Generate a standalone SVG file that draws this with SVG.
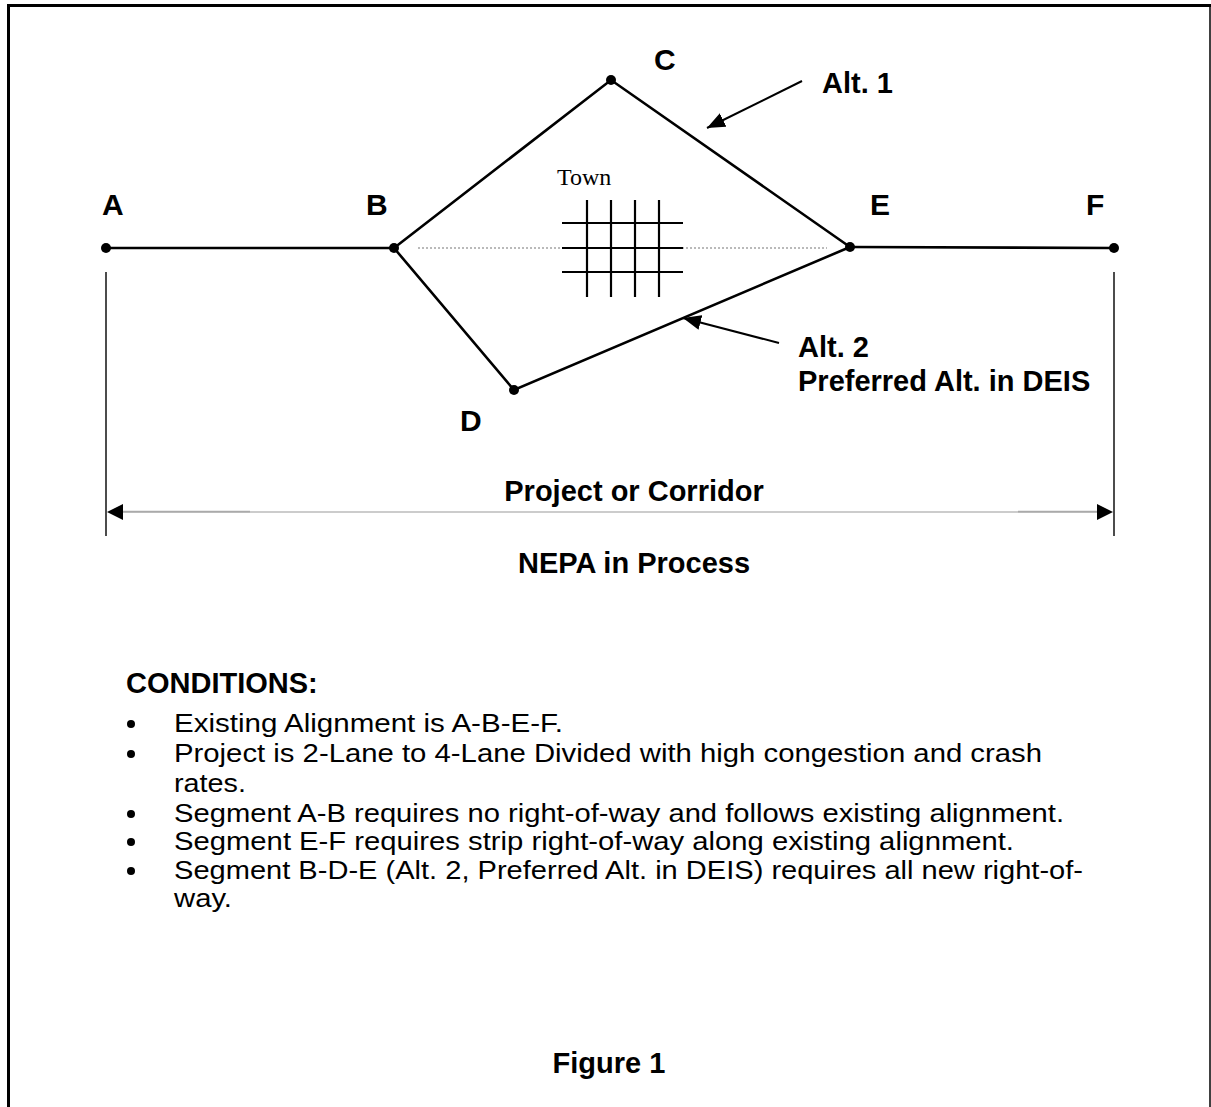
<svg xmlns="http://www.w3.org/2000/svg" width="1211" height="1107" viewBox="0 0 1211 1107">
<style>
.lbl{font-family:"Liberation Sans",Arial,sans-serif;font-weight:bold;font-size:30px;fill:#000}
.bt{font-family:"Liberation Sans",Arial,sans-serif;font-weight:bold;font-size:29px;fill:#000}
.tx{font-family:"Liberation Sans",Arial,sans-serif;font-size:26px;fill:#000}
.town{font-family:"Liberation Serif","Times New Roman",serif;font-size:24px;fill:#000}
.road{stroke:#000;stroke-width:2.6;fill:none;stroke-linecap:round}
.grid{stroke:#000;stroke-width:2.2}
.dim{stroke:#111;stroke-width:1.5}
</style>
<defs>
<marker id="ptr" viewBox="0 0 10 10" refX="10" refY="5" markerWidth="18" markerHeight="15" markerUnits="userSpaceOnUse" orient="auto" preserveAspectRatio="none">
<path d="M0,0 L10,5 L0,10 z" fill="#000"/>
</marker>
</defs>
<rect width="1211" height="1107" fill="#fff"/>
<g id="frame">
<line x1="8.5" y1="4" x2="8.5" y2="1107" stroke="#000" stroke-width="3"/>
<line x1="7" y1="5.5" x2="1211" y2="5.5" stroke="#000" stroke-width="3"/>
<line x1="1210" y1="4" x2="1210" y2="1107" stroke="#000" stroke-width="1.5"/>
</g>
<g id="connectors">
<line x1="418" y1="248" x2="827" y2="248" stroke="#777" stroke-width="1.2" stroke-dasharray="2,2"/>
<line class="road" x1="106" y1="248" x2="394" y2="248"/>
<polyline class="road" points="394,248 611,80 850,247"/>
<polyline class="road" points="394,248 514,390 850,247"/>
<line class="road" x1="850" y1="247" x2="1114" y2="248"/>
<line x1="802" y1="81" x2="707" y2="128" stroke="#000" stroke-width="2" marker-end="url(#ptr)"/>
<line x1="779" y1="343" x2="683" y2="318" stroke="#000" stroke-width="2" marker-end="url(#ptr)"/>
<line class="dim" x1="106" y1="272" x2="106" y2="536"/>
<line class="dim" x1="1114" y1="272" x2="1114" y2="536"/>
<line x1="120" y1="512" x2="1100" y2="512" stroke="#999" stroke-width="1.2"/>
<line x1="120" y1="511.7" x2="250" y2="511.7" stroke="#aaa" stroke-width="1.8"/>
<line x1="1018" y1="511.7" x2="1100" y2="511.7" stroke="#aaa" stroke-width="1.8"/>
<path d="M107,512 L123,504 L123,520 z" fill="#000"/>
<path d="M1113,512 L1097,504 L1097,520 z" fill="#000"/>
</g>
<g id="town">
<text class="town" x="557" y="185">Town</text>
<line class="grid" x1="587" y1="200" x2="587" y2="297"/>
<line class="grid" x1="611" y1="200" x2="611" y2="297"/>
<line class="grid" x1="635" y1="200" x2="635" y2="297"/>
<line class="grid" x1="659" y1="200" x2="659" y2="297"/>
<line class="grid" x1="562" y1="223" x2="683" y2="223"/>
<line class="grid" x1="562" y1="248" x2="683" y2="248"/>
<line class="grid" x1="562" y1="272" x2="683" y2="272"/>
</g>
<g id="node-A"><circle cx="106" cy="248" r="5"/><text class="lbl" x="102" y="215">A</text></g>
<g id="node-B"><circle cx="394" cy="248" r="5"/><text class="lbl" x="366" y="215">B</text></g>
<g id="node-C"><circle cx="611" cy="80" r="5"/><text class="lbl" x="654" y="70">C</text></g>
<g id="node-D"><circle cx="514" cy="390" r="5"/><text class="lbl" x="460" y="431">D</text></g>
<g id="node-E"><circle cx="850" cy="247" r="5"/><text class="lbl" x="870" y="215">E</text></g>
<g id="node-F"><circle cx="1114" cy="248" r="5"/><text class="lbl" x="1086" y="215">F</text></g>
<g id="labels">
<text class="bt" x="822" y="93">Alt. 1</text>
<text class="bt" x="798" y="357">Alt. 2</text>
<text class="bt" x="798" y="391">Preferred Alt. in DEIS</text>
<text class="bt" x="634" y="501" text-anchor="middle">Project or Corridor</text>
<text class="bt" x="634" y="573" text-anchor="middle">NEPA in Process</text>
</g>
<g id="conditions">
<text class="bt" x="126" y="693">CONDITIONS:</text>
<circle cx="131" cy="724" r="4"/>
<text class="tx" x="174" y="732" textLength="389" lengthAdjust="spacingAndGlyphs">Existing Alignment is A-B-E-F.</text>
<circle cx="131" cy="754" r="4"/>
<text class="tx" x="174" y="762" textLength="868" lengthAdjust="spacingAndGlyphs">Project is 2-Lane to 4-Lane Divided with high congestion and crash</text>
<text class="tx" x="174" y="792" textLength="72" lengthAdjust="spacingAndGlyphs">rates.</text>
<circle cx="131" cy="814" r="4"/>
<text class="tx" x="174" y="822" textLength="890" lengthAdjust="spacingAndGlyphs">Segment A-B requires no right-of-way and follows existing alignment.</text>
<circle cx="131" cy="842" r="4"/>
<text class="tx" x="174" y="850" textLength="840" lengthAdjust="spacingAndGlyphs">Segment E-F requires strip right-of-way along existing alignment.</text>
<circle cx="131" cy="871" r="4"/>
<text class="tx" x="174" y="879" textLength="909" lengthAdjust="spacingAndGlyphs">Segment B-D-E (Alt. 2, Preferred Alt. in DEIS) requires all new right-of-</text>
<text class="tx" x="174" y="907" textLength="58" lengthAdjust="spacingAndGlyphs">way.</text>
</g>
<text class="bt" x="609" y="1073" text-anchor="middle">Figure 1</text>
</svg>
